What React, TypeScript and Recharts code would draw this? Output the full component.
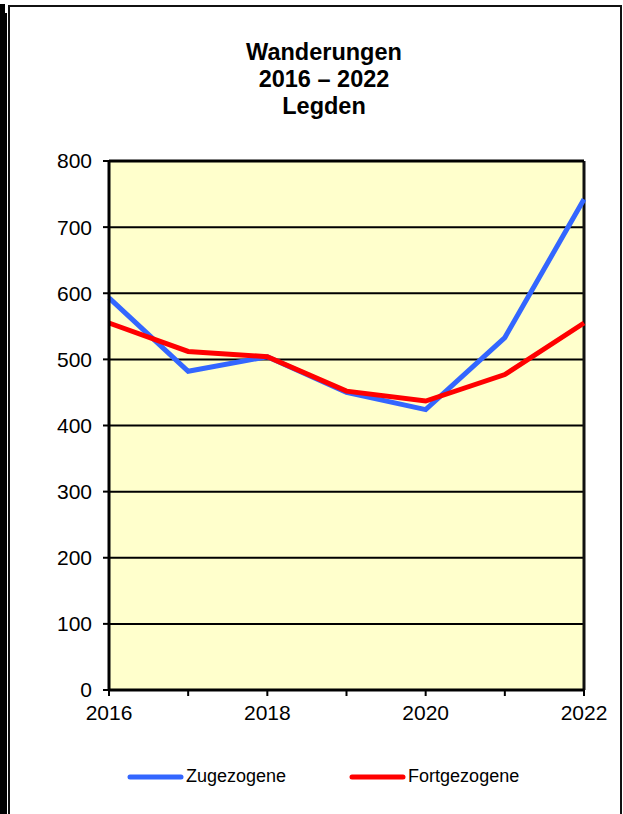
import React from "react";
import {
  LineChart,
  Line,
  XAxis,
  YAxis,
  CartesianGrid,
  Legend,
  ReferenceLine,
} from "recharts";

const YEARS = [2016, 2017, 2018, 2019, 2020, 2021, 2022];
const ZUGEZOGENE = [593, 482, 504, 450, 424, 533, 742];
const FORTGEZOGENE = [555, 512, 504, 452, 437, 477, 555];
const Y_TICKS = [0, 100, 200, 300, 400, 500, 600, 700, 800];
const SERIES = ["Zugezogene", "Fortgezogene"];

const data = YEARS.map((year, i) => ({
  year,
  Zugezogene: ZUGEZOGENE[i],
  Fortgezogene: FORTGEZOGENE[i],
}));

const FONT = "Arial, 'Liberation Sans', sans-serif";

const renderLegend = (props: any) => {
  const payload = [...(props.payload || [])].sort(
    (a: any, b: any) => SERIES.indexOf(a.value) - SERIES.indexOf(b.value)
  );
  return (
    <div style={{ display: "flex", alignItems: "center", fontFamily: FONT, fontSize: 18, color: "#000" }}>
      {payload.map((entry: any, i: number) => (
        <div
          key={entry.value}
          style={{ display: "flex", alignItems: "center", marginLeft: i === 0 ? 0 : 63 }}
        >
          <svg width={57} height={8} style={{ marginRight: 2 }}>
            <line x1={3} y1={4} x2={54} y2={4} stroke={entry.color} strokeWidth={5} strokeLinecap="round" />
          </svg>
          <span>{entry.value}</span>
        </div>
      ))}
    </div>
  );
};

export default function App() {
  return (
    <div style={{ position: "absolute", left: 0, top: 0, width: 623, height: 814, background: "#fff", overflow: "hidden" }}>
      {/* frame with shadow on the left */}
      <div style={{ position: "absolute", left: 0, top: 4, width: 5, height: 810, background: "#000" }} />
      <div style={{ position: "absolute", left: 5, top: 13, width: 2, height: 801, background: "#000" }} />
      <div
        style={{
          position: "absolute",
          left: 8,
          top: 5,
          width: 610,
          height: 820,
          border: "2px solid #111",
          boxSizing: "content-box",
        }}
      />
      <div
        style={{
          position: "absolute",
          left: 0,
          top: 39,
          width: 648,
          textAlign: "center",
          fontFamily: FONT,
          fontWeight: "bold",
          fontSize: 23.5,
          lineHeight: "27px",
          color: "#000",
        }}
      >
        <div>Wanderungen</div>
        <div>2016 – 2022</div>
        <div>Legden</div>
      </div>
      <div style={{ position: "absolute", left: 0, top: 0 }}>
        <LineChart
          width={623}
          height={814}
          data={data}
          margin={{ top: 161, right: 39, bottom: 94, left: 0 }}
        >
          <CartesianGrid
            vertical={false}
            stroke="#000"
            strokeWidth={2}
            fill="#FFFFCC"
            strokeOpacity={1}
          />
          <XAxis
            dataKey="year"
            type="number"
            domain={[2016, 2022]}
            ticks={YEARS}
            tickFormatter={(v: number) => (v % 2 === 0 ? String(v) : "")}
            tick={{ fill: "#000", fontSize: 21, fontFamily: FONT }}
            tickSize={6}
            tickMargin={9}
            axisLine={{ stroke: "#000", strokeWidth: 3 }}
            tickLine={{ stroke: "#000", strokeWidth: 2 }}
            height={30}
            interval={0}
          />
          <YAxis
            domain={[0, 800]}
            ticks={Y_TICKS}
            width={109}
            tick={{ fill: "#000", fontSize: 21, fontFamily: FONT }}
            tickSize={6}
            tickMargin={11}
            axisLine={{ stroke: "#000", strokeWidth: 3 }}
            tickLine={{ stroke: "#000", strokeWidth: 2 }}
            interval={0}
          />
          <ReferenceLine x={2022} stroke="#111" strokeWidth={3} />
          <ReferenceLine y={800} stroke="#000" strokeWidth={3} />
          <Line
            type="linear"
            dataKey="Zugezogene"
            stroke="#3366FF"
            strokeWidth={5}
            dot={false}
            isAnimationActive={false}
          />
          <Line
            type="linear"
            dataKey="Fortgezogene"
            stroke="#FF0000"
            strokeWidth={5}
            dot={false}
            isAnimationActive={false}
          />
          <Legend
            layout="horizontal"
            verticalAlign="middle"
            align="center"
            content={renderLegend}
            wrapperStyle={{ top: 766, left: 127, width: "auto", height: "auto" }}
          />
        </LineChart>
      </div>
    </div>
  );
}
